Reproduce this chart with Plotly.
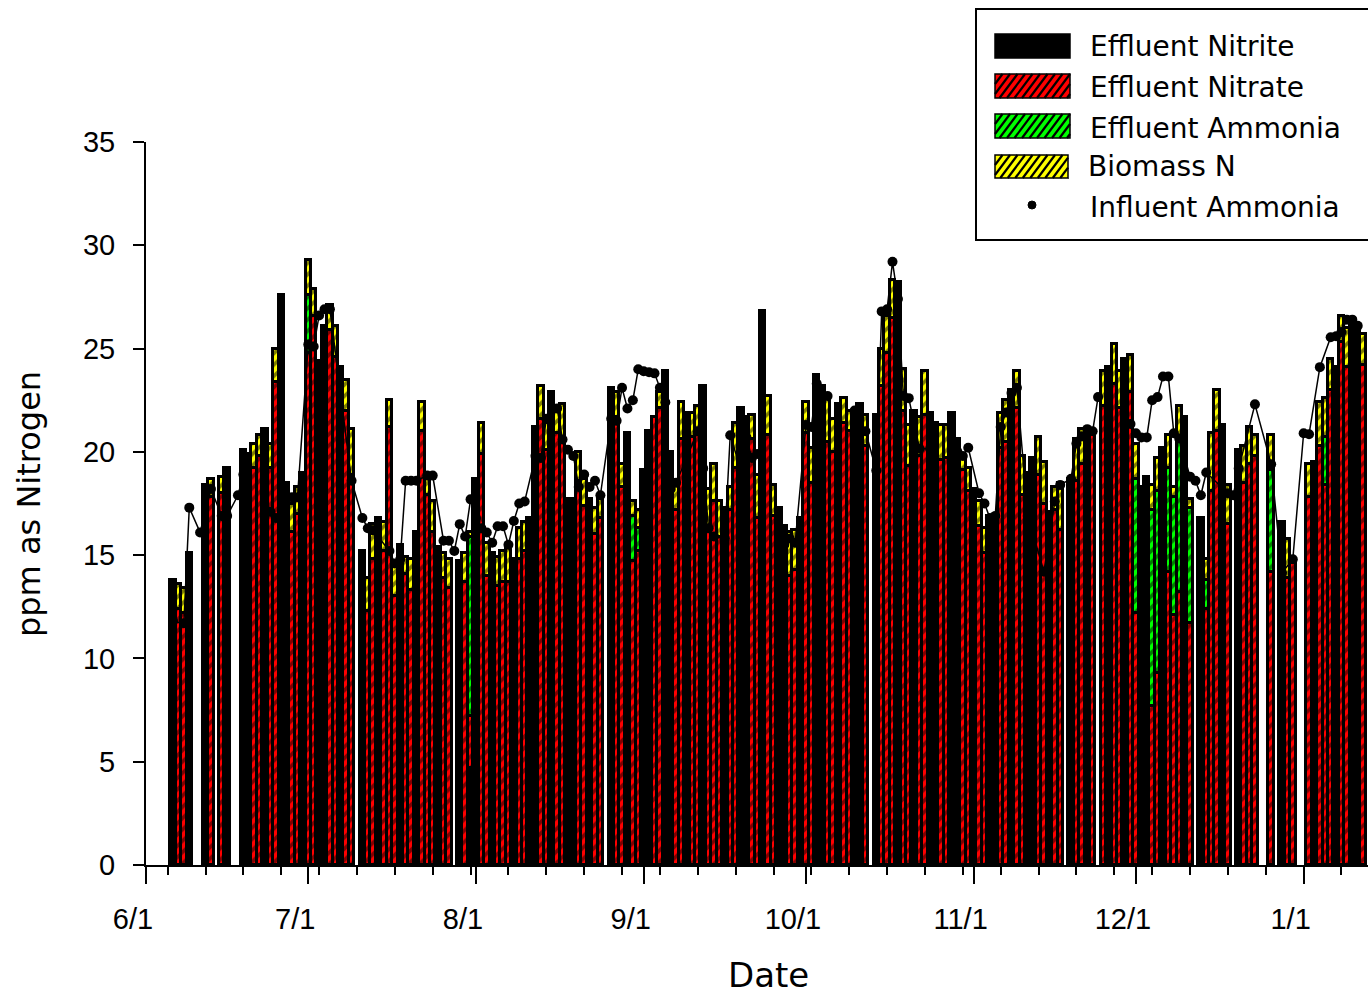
import plotly.graph_objects as go
import pandas as pd

N = None
START = pd.Timestamp("2000-06-01")

# ---- bar data (day offset from 6/1) ----
bar_day = [5, 6, 7, 8, 11, 12, 14, 15, 18, 19,
           20, 21, 22, 23, 24, 25, 26, 27, 28, 29,
           30, 31, 32, 33, 34, 35, 36, 37, 38, 40,
           41, 42, 43, 44, 45, 46, 47, 48, 49, 50,
           51, 52, 53, 54, 55, 56, 58, 59, 60, 61,
           62, 63, 64, 65, 66, 67, 68, 69, 70, 71,
           72, 73, 74, 75, 76, 77, 78, 79, 80, 81,
           82, 83, 84, 86, 87, 88, 89, 90, 91, 92,
           93, 94, 95, 96, 97, 98, 99, 100, 101, 102,
           103, 104, 105, 106, 107, 108, 109, 110, 111, 112,
           113, 114, 115, 116, 117, 118, 119, 120, 121, 122,
           123, 124, 125, 126, 127, 128, 129, 130, 131, 132,
           133, 135, 136, 137, 138, 139, 140, 141, 142, 143,
           144, 145, 146, 147, 148, 149, 150, 151, 152, 153,
           154, 155, 156, 157, 158, 159, 160, 161, 162, 163,
           164, 165, 166, 167, 168, 169, 171, 172, 173, 174,
           175, 177, 178, 179, 180, 181, 182, 183, 184, 185,
           186, 187, 188, 189, 190, 191, 192, 193, 195, 196,
           197, 198, 199, 200, 202, 203, 204, 205, 208, 210,
           211, 212, 215, 216, 217, 218, 219, 220, 221, 222,
           223, 224, 225]

nitrite = [13.8, N, N, 15.1, 18.4, N, N, 19.2, 20.1, 19.9,
           N, N, 21.1, N, N, 27.6, 18.5, N, N, 19.0,
           N, N, 24.4, 26.1, N, N, 24.1, N, N, 15.2,
           N, N, 16.8, N, N, N, 15.5, N, N, 16.1,
           N, N, N, 15.4, N, N, 14.7, N, 4.7, 18.7,
           N, N, 15.1, N, N, N, 14.8, N, N, 16.8,
           21.2, N, N, 22.9, N, N, 17.7, 17.7, N, N,
           17.7, N, N, 23.1, N, N, 20.9, N, N, 19.1,
           21.0, N, N, 23.9, 20.0, N, N, 21.9, N, N,
           23.2, N, N, N, 17.3, N, N, 22.1, 21.7, N,
           N, 26.8, N, N, 17.3, 16.4, N, N, 16.8, N,
           N, 23.7, 23.2, N, N, 22.3, N, N, 22.0, 22.3,
           N, 21.8, N, N, N, 28.2, N, N, 22.0, N,
           N, 21.9, 21.4, N, N, 21.9, 20.6, N, N, 18.2,
           N, N, 16.9, 16.9, N, N, 23.0, N, N, 19.0,
           19.7, N, N, 17.1, N, N, 18.7, N, N, 21.0,
           N, N, 24.1, N, N, 24.5, N, N, 18.3, 18.8,
           N, N, 20.2, N, N, N, 21.7, N, 16.8, N,
           N, N, 21.3, N, 20.1, N, N, N, N, 16.6,
           N, N, N, 19.5, N, N, N, 24.1, N, N,
           26.4, 26.0, N]

nitrate = [N, 12.4, 12.2, N, N, 17.8, 18.0, N, N, N,
           19.2, 19.8, N, 19.2, 23.4, N, N, 16.1, 17.0, N,
           24.8, 26.6, N, N, 25.9, 24.6, N, 22.0, 18.9, N,
           12.3, 14.8, N, 15.2, 21.2, 13.0, N, 14.1, 13.3, N,
           21.0, 17.9, 16.1, N, 13.9, 13.4, N, 13.7, 2.5, N,
           19.9, 14.0, N, 13.5, 13.7, 13.7, N, 14.8, 15.2, N,
           N, 21.6, 20.1, N, 20.9, 20.6, N, N, 18.6, 17.4,
           N, 16.0, 16.8, N, 21.7, 18.3, N, 14.7, 15.2, N,
           N, 21.7, 22.1, N, N, 17.2, 20.6, N, 20.7, 21.0,
           N, 16.4, 17.6, 15.9, N, 17.2, 19.2, N, N, 20.6,
           16.8, N, 20.8, 16.9, N, N, 14.0, 14.3, N, 20.9,
           18.5, N, N, 20.5, 20.0, N, 21.4, 21.0, N, N,
           20.3, N, 23.2, 24.8, 26.5, N, 22.0, 19.3, N, 19.8,
           21.8, N, N, 19.6, 19.7, N, N, 19.1, 18.1, N,
           16.4, 15.1, N, N, 20.2, 20.5, N, 22.1, 17.9, N,
           N, 18.9, 17.5, N, 17.2, 16.2, N, 18.6, 19.4, N,
           20.9, 22.2, N, 23.3, 22.1, N, 22.9, 12.2, N, N,
           7.7, 9.3, N, 14.2, 12.1, 13.2, N, 11.7, N, 12.4,
           18.1, 21.0, N, 16.5, N, 18.5, 19.4, 19.8, 14.2, N,
           13.9, 14.6, 17.8, N, 20.3, 18.4, 23.0, N, 25.3, 24.1,
           N, N, 24.2]

ammonia = [N, N, N, N, N, N, N, N, N, N,
           N, N, N, N, N, N, N, N, N, N,
           2.8, N, N, N, N, N, N, N, N, N,
           N, N, N, N, N, N, N, N, N, N,
           N, N, N, N, N, N, N, N, 8.7, N,
           N, N, N, N, N, N, N, N, N, N,
           N, N, N, N, N, N, N, N, N, N,
           N, N, N, N, N, N, N, 2.2, 1.1, N,
           N, N, N, N, N, N, N, N, N, N,
           N, N, N, N, N, N, N, N, N, N,
           N, N, N, N, N, N, N, N, N, N,
           N, N, N, N, N, N, N, N, N, N,
           N, N, N, N, N, N, N, N, N, N,
           N, N, N, N, N, N, N, N, N, N,
           N, N, N, N, N, N, N, N, N, N,
           N, N, N, N, N, N, N, N, N, N,
           N, N, N, N, N, N, N, 6.5, N, N,
           9.5, 8.8, N, 5.0, 5.7, 7.4, N, 5.6, N, 1.4,
           N, N, N, N, N, N, N, N, 4.9, N,
           N, N, N, N, N, 2.3, N, N, N, N,
           N, N, N]

biomass = [N, 1.2, 1.2, N, N, 0.9, 0.8, N, N, N,
           1.2, 1.0, N, 1.2, 1.6, N, N, 1.4, 1.3, N,
           1.7, 1.3, N, N, 1.2, 1.5, N, 1.5, 2.2, N,
           1.6, 1.7, N, 1.4, 1.3, 1.5, N, 0.8, 1.5, N,
           1.4, 1.0, 1.5, N, 1.2, 1.4, N, 1.4, 0.2, N,
           1.5, 1.6, N, 1.4, 1.5, 1.7, N, 1.5, 1.4, N,
           N, 1.6, 1.3, N, 1.3, 1.7, N, N, 1.4, 1.3,
           N, 1.3, 0.9, N, 1.2, 1.1, N, 0.7, 0.9, N,
           N, N, 0.8, N, N, 1.4, 1.8, N, 1.2, 1.2,
           N, 1.8, 1.8, 1.7, N, 1.1, 2.2, N, N, 1.2,
           2.1, N, 1.9, 1.5, N, N, 2.1, 1.9, N, 1.5,
           1.7, N, N, 2.2, 1.6, N, 1.2, 1.0, N, N,
           1.5, N, 1.8, 1.8, 1.8, N, 2.0, 2.0, N, 1.9,
           2.1, N, N, 1.7, 1.6, N, N, 0.6, 1.1, N,
           1.2, 1.2, N, N, 1.7, 2.0, N, 1.8, 1.9, N,
           N, 1.8, 2.0, N, 1.1, 2.3, N, 2.0, 1.7, N,
           N, 1.7, N, 1.9, 1.8, N, 1.8, 1.7, N, N,
           1.2, 1.6, N, 1.6, 0.5, 1.6, N, 0.4, N, 1.0,
           2.8, 2.0, N, 1.9, N, 1.8, 1.8, 1.0, 1.7, N,
           1.9, N, 1.6, N, 2.1, 1.9, 1.5, N, 1.3, 1.9,
           N, N, 1.5]

# ---- influent ammonia (visible points) ----
inf_day = [5, 7, 8, 10, 12, 14, 15, 17, 18, 23, 24, 25, 27, 28, 30, 31, 32, 33, 34,
           38, 40, 41, 42, 45, 46, 47, 48, 49, 50, 52, 53, 55, 56, 57, 58, 59, 60,
           61, 62, 63, 64, 65, 66, 67, 68, 69, 70, 72, 73, 74, 76, 77, 78, 79, 80,
           81, 82, 83, 84, 86, 87, 88, 89, 90, 91, 92, 93, 94, 95, 96, 97, 98,
           102, 103, 104, 105, 107, 108, 110, 111, 112, 113, 118, 119, 120, 122,
           123, 124, 126, 131, 133, 135, 136, 137, 138, 139, 140, 141, 143, 145,
           150, 151, 152, 154, 155, 156, 157, 158, 159, 160, 161, 163, 166, 168,
           169, 171, 172, 173, 174, 175, 176, 182, 183, 184, 185, 186, 187, 188,
           189, 190, 191, 193, 194, 195, 196, 200, 201, 202, 205, 208, 210, 212,
           214, 215, 217, 219, 220, 221, 222, 223, 224]
inf_val = [11.8, 11.7, 17.3, 16.1, 18.2, 16.9, 16.9, 17.9, 18.9, 17.1, 16.8, 16.8, 17.8, 17.8,
           25.2, 25.1, 26.6, 26.9, 26.9,
           18.6, 16.8, 16.3, 16.2, 15.2, 14.6, 14.8, 18.6, 18.6, 18.6, 18.85, 18.85, 15.7,
           15.7, 15.2, 16.5, 15.9, 17.7,
           16.8, 16.3, 16.1, 15.6, 16.4, 16.4, 15.5, 16.65, 17.5, 17.6, 19.8, 19.7, 21.6,
           22.1, 20.6, 20.1, 19.8, 18.3,
           18.9, 18.3, 18.6, 17.9, 21.6, 21.5, 23.1, 22.1, 22.5, 24.0, 23.9, 23.85, 23.8,
           23.1, 22.4, 18.2, 18.5,
           21.0, 19.2, 16.3, 15.9, 15.8, 20.8, 19.1, 20.7, 19.7, 19.9, 15.5, 15.8, 15.6, 21.3,
           21.2, 23.3, 22.7, 22.0, 21.0, 19.1, 26.8, 26.9, 29.2, 27.4, 22.7, 22.6, 20.15, 20.15,
           20.0, 19.8, 20.2, 18.0, 17.5, 16.8, 16.9, 21.2, 21.9, 22.85, 23.1, 16.9, 14.2, 17.6,
           18.4, 18.7, 20.4, 20.75, 21.1, 21.0, 22.65, 21.35, 20.9, 20.7, 20.7, 22.5, 22.65, 23.65,
           23.65, 20.9, 20.65, 18.8, 18.6, 17.9, 19.0, 18.0, 17.9, 19.2, 22.3, 19.4, 14.15, 14.8,
           20.9, 20.85, 24.1, 25.55, 25.6, 25.8, 26.4, 26.4, 26.1]

x_ticks_every = "M1"
FONT = "DejaVu Sans"
TICKFONT = "Liberation Sans"

# ---------------------------------------------------------------
DAY = pd.Timedelta(days=1)
bar_x = [START + d * DAY for d in bar_day]

# influent line: break where there is a long gap between points
ix, iy = [], []
prev = None
for d, v in zip(inf_day, inf_val):
    if prev is not None and d - prev > 4:
        ix.append(None)
        iy.append(None)
    ix.append(START + d * DAY)
    iy.append(v)
    prev = d

fig = go.Figure()
BW = 86400000 * 1.0
outline = dict(color="black", width=3.2)


def hatch(col):
    return dict(shape="/", fgcolor="black", bgcolor=col, size=8, solidity=0.45,
                fillmode="overlay")


fig.add_trace(go.Bar(x=bar_x, y=nitrite, width=BW, name="Effluent Nitrite",
                     marker=dict(color="black", line=outline)))
fig.add_trace(go.Bar(x=bar_x, y=nitrate, width=BW, name="Effluent Nitrate",
                     marker=dict(color="#ff0000", line=outline, pattern=hatch("#ff0000"))))
fig.add_trace(go.Bar(x=bar_x, y=ammonia, width=BW, name="Effluent Ammonia",
                     marker=dict(color="#00ff00", line=outline, pattern=hatch("#00ff00"))))
fig.add_trace(go.Bar(x=bar_x, y=biomass, width=BW, name="Biomass N",
                     marker=dict(color="#ffff00", line=outline, pattern=hatch("#ffff00"))))
fig.add_trace(go.Scatter(x=ix, y=iy, mode="lines+markers", name="Influent Ammonia",
                         line=dict(color="black", width=1.5),
                         marker=dict(color="black", size=10), connectgaps=False))

W, H = 1368, 995
L, R, T, B = 146, 0, 142, 130
PW, PH = W - L - R, H - T - B


def px(x):
    return (x - L) / PW


def py(y):
    return (H - B - y) / PH


shapes = []
annotations = []

# legend box
shapes.append(dict(type="rect", xref="paper", yref="paper", x0=px(976), x1=px(1372),
                   y0=py(240), y1=py(9), line=dict(color="black", width=2),
                   fillcolor="white", layer="above"))


def swatch(x0, y0, x1, y1, color, hatched):
    shapes.append(dict(type="rect", xref="paper", yref="paper", x0=px(x0), x1=px(x1),
                       y0=py(y1), y1=py(y0), fillcolor=color,
                       line=dict(color="black", width=1.5), layer="above"))
    if not hatched:
        return
    h = y1 - y0
    run = 0.75 * h
    xs = x0 - run
    while xs < x1:
        t0 = max(0.0, (x0 - xs) / run)
        t1 = min(1.0, (x1 - xs) / run)
        if t1 > t0:
            ax, ay = xs + run * t0, y1 - h * t0
            bx, by = xs + run * t1, y1 - h * t1
            shapes.append(dict(type="line", xref="paper", yref="paper",
                               x0=px(ax), y0=py(ay), x1=px(bx), y1=py(by),
                               line=dict(color="black", width=2.2), layer="above"))
        xs += 7.5


swatch(995, 34, 1070, 58, "black", False)
swatch(995, 74, 1070, 98, "#ff0000", True)
swatch(995, 114, 1070, 138, "#00ff00", True)
swatch(995, 155, 1068, 178, "#ffff00", True)
shapes.append(dict(type="circle", xref="paper", yref="paper", x0=px(1028), x1=px(1036),
                   y0=py(209), y1=py(201), fillcolor="black", line=dict(color="black", width=1),
                   layer="above"))

leg_text = ["Effluent Nitrite", "Effluent Nitrate", "Effluent Ammonia", "Biomass N",
            "Influent Ammonia"]
leg_y = [46, 87, 128, 166, 207]
leg_x = [1088, 1088, 1088, 1086, 1088]
for t, yy, xx in zip(leg_text, leg_y, leg_x):
    annotations.append(dict(text=t, xref="paper", yref="paper", x=px(xx), y=py(yy),
                            xanchor="left", yanchor="middle", showarrow=False,
                            font=dict(family=FONT, size=28, color="black")))

annotations.append(dict(text="Date", xref="paper", yref="paper", x=px(768), y=py(975),
                        xanchor="center", yanchor="middle", showarrow=False,
                        font=dict(family=FONT, size=34, color="black")))
annotations.append(dict(text="ppm as Nitrogen", xref="paper", yref="paper", x=px(29),
                        y=py(504), xanchor="center", yanchor="middle", textangle=-90,
                        showarrow=False, font=dict(family=FONT, size=32, color="black")))

fig.update_layout(
    width=W, height=H,
    margin=dict(l=L, r=R, t=T, b=B, pad=0),
    barmode="stack", bargap=0,
    plot_bgcolor="white", paper_bgcolor="white",
    showlegend=False,
    shapes=shapes, annotations=annotations,
    font=dict(family=FONT, color="black"),
)
fig.update_xaxes(
    type="date",
    range=[START, START + pd.Timedelta(days=225.9)],
    dtick=x_ticks_every, tick0=START, tickformat="%-m/%-d",
    ticks="outside", ticklen=17, tickwidth=2, tickcolor="black",
    showline=True, linecolor="black", linewidth=2, showgrid=False, zeroline=False,
    tickfont=dict(family=TICKFONT, size=29, color="black"),
    ticklabelstandoff=10, ticklabelshift=-13,
    minor=dict(ticks="outside", ticklen=8, tickwidth=2, tickcolor="black",
               dtick=7 * 86400000, tick0=START + 4 * DAY, showgrid=False),
)
fig.update_yaxes(
    range=[0, 35], dtick=5, tick0=0,
    ticks="outside", ticklen=11, tickwidth=2, tickcolor="black",
    showline=True, linecolor="black", linewidth=2, showgrid=False, zeroline=False,
    tickfont=dict(family=TICKFONT, size=29, color="black"),
    ticklabelstandoff=12,
)

fig.write_html("out.html")
